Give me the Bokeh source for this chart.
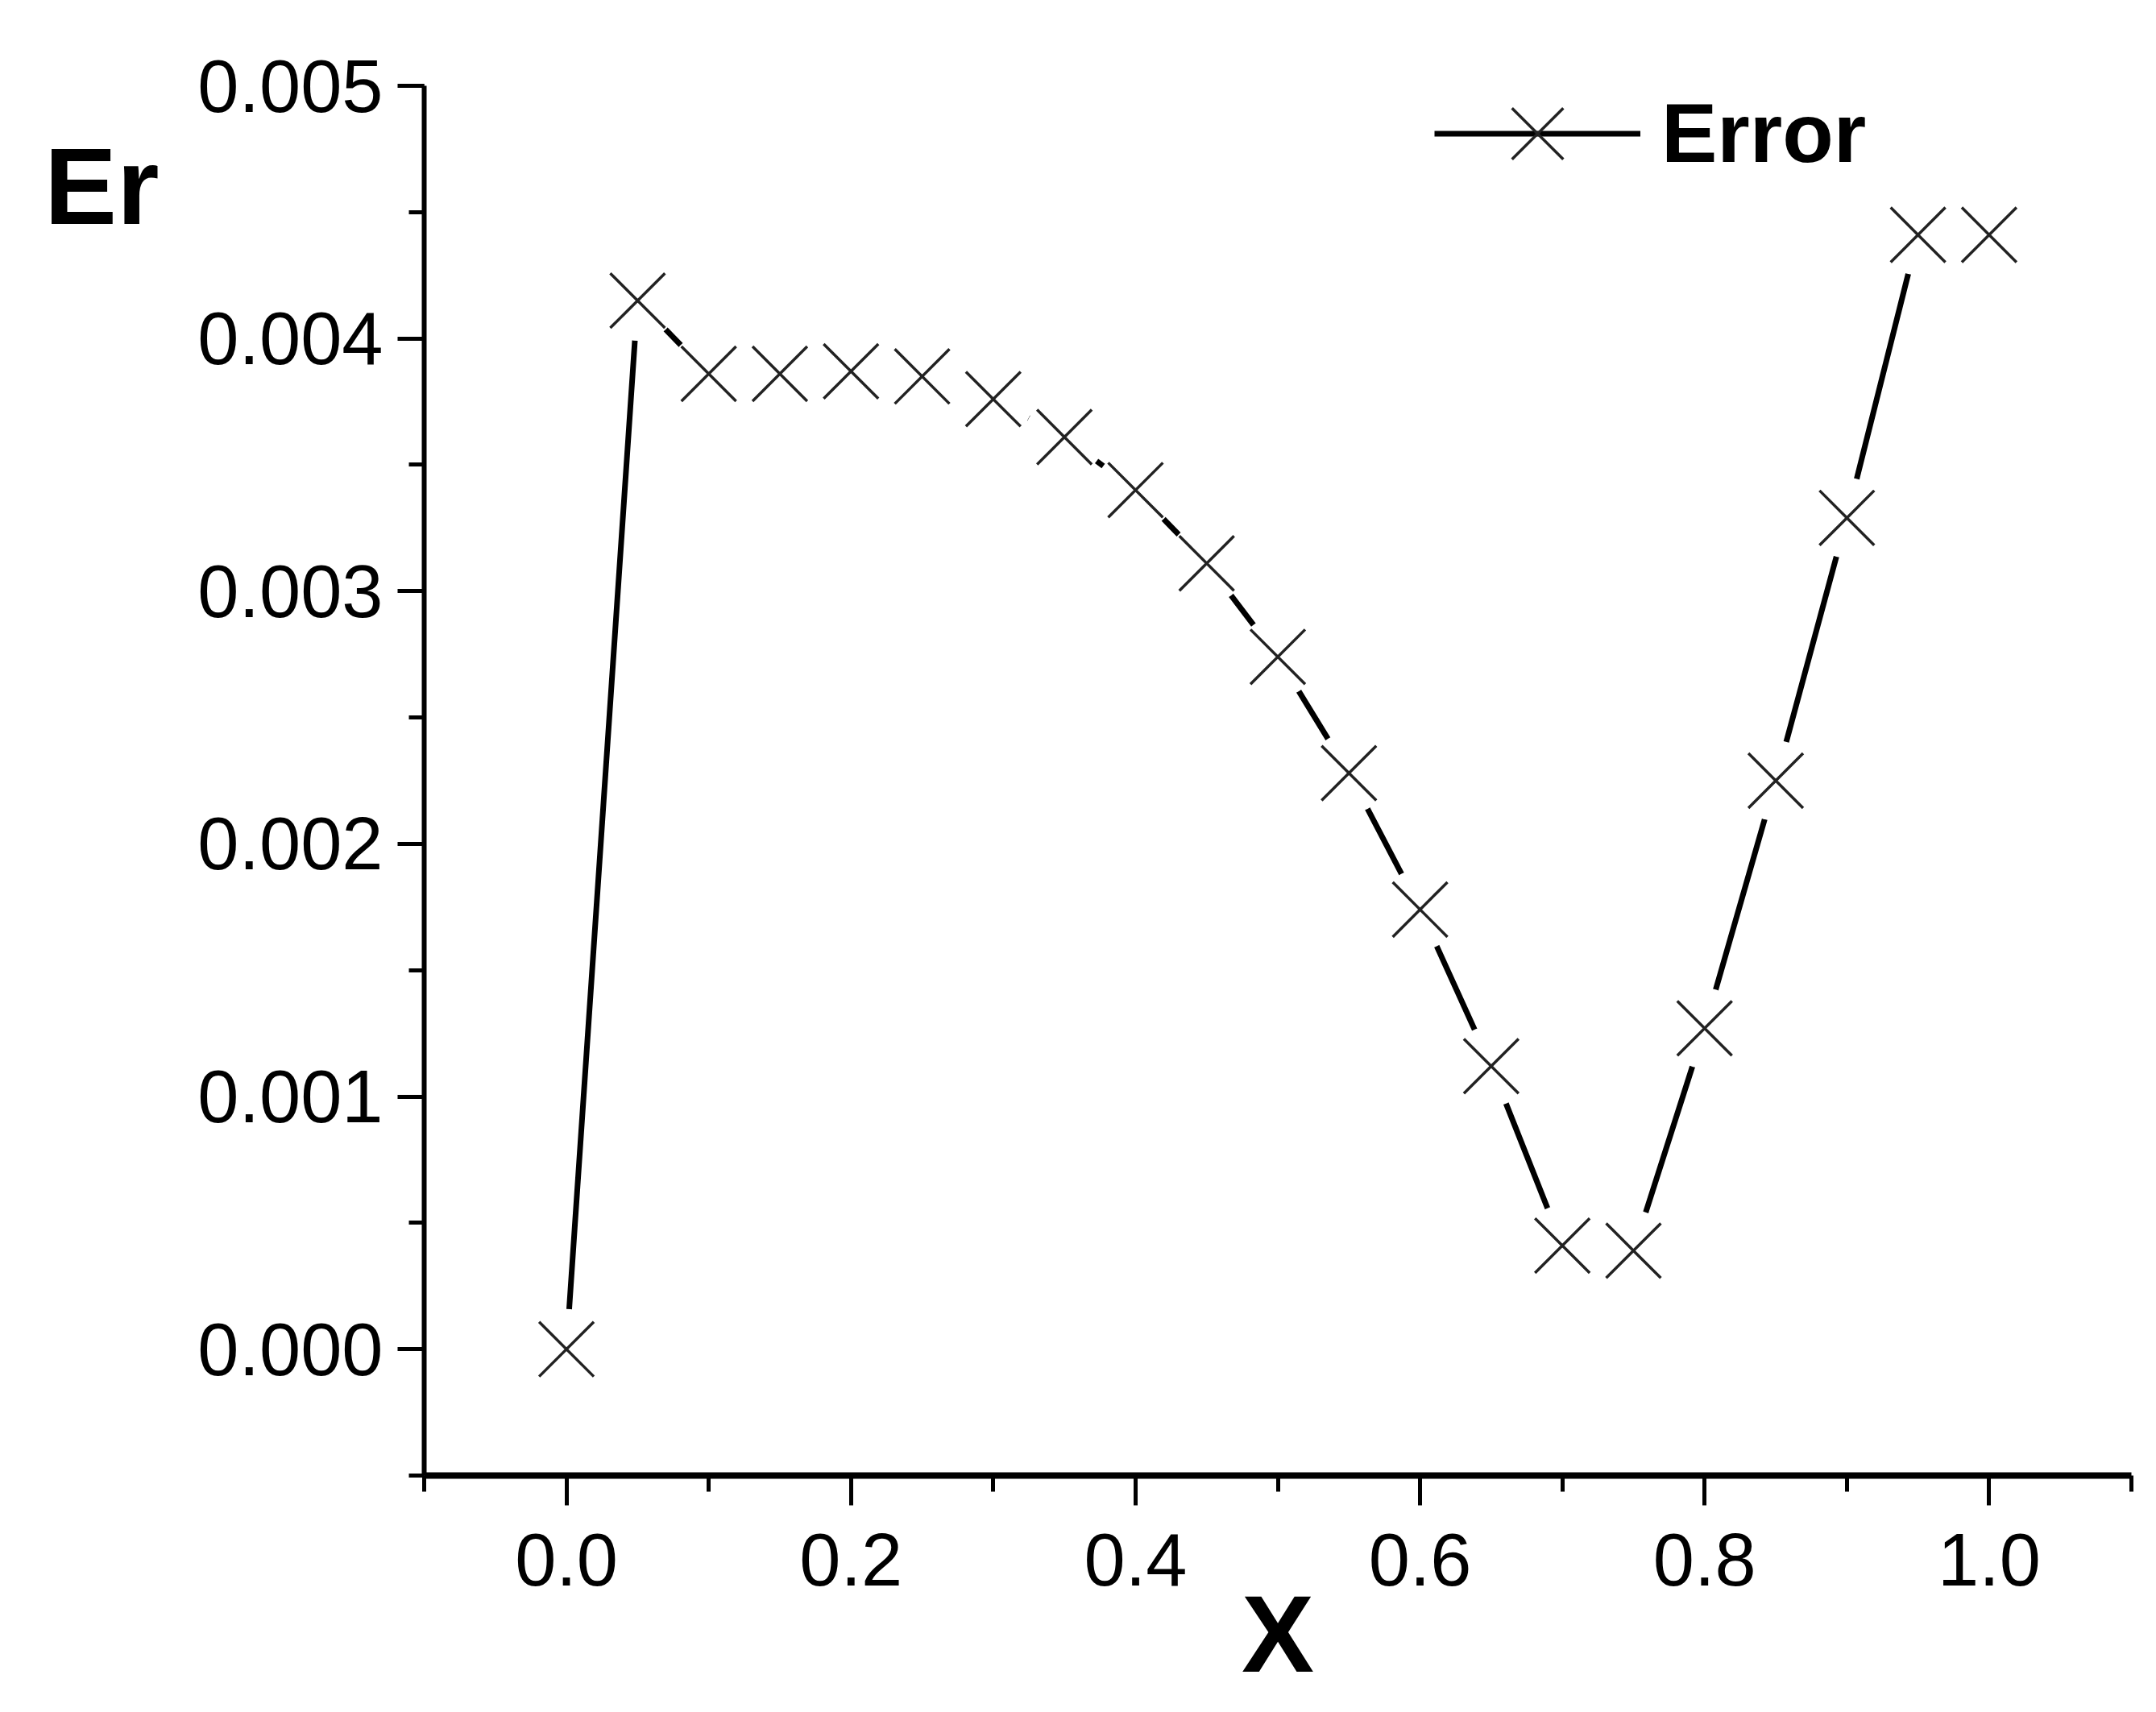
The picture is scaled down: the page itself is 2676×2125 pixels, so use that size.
from bokeh.plotting import figure
from bokeh.embed import file_html
from bokeh.resources import INLINE
from bokeh.models import (Range1d, SingleIntervalTicker, PrintfTickFormatter,
                          FixedTicker, LinearAxis, Legend, LegendItem,
                          ColumnDataSource)

# data
x_vals = [0.00, 0.05, 0.10, 0.15, 0.20, 0.25, 0.30, 0.35, 0.40, 0.45, 0.50,
          0.55, 0.60, 0.65, 0.70, 0.75, 0.80, 0.85, 0.90, 0.95, 1.00]
err = [0.00000, 0.00415, 0.00386, 0.00386, 0.00387, 0.00385, 0.00376,
       0.00361, 0.00340, 0.00311, 0.00274, 0.00228, 0.00174, 0.00112,
       0.00041, 0.00039, 0.00127, 0.00225, 0.00329, 0.00441, 0.00441]
series_name = "Error"
x_title = "X"
y_title = "Er"
y_title_at = 0.0046   # height at which the horizontal y title sits

FONT = "Liberation Sans"

src = ColumnDataSource(data=dict(x=x_vals, y=err))

p = figure(
    width=2668,
    height=2117,
    x_range=Range1d(-0.1, 1.1),
    y_range=Range1d(-0.0005, 0.005),
    output_backend="svg",
    toolbar_location=None,
    min_border_left=526,
    min_border_right=23,
    min_border_top=106,
    min_border_bottom=286,
)
p.outline_line_color = None
p.xgrid.visible = False
p.ygrid.visible = False
p.background_fill_color = "white"
p.border_fill_color = "white"

# line, then white discs to leave gaps round the symbols, then the symbols
line_r = p.line("x", "y", source=src, line_color="black", line_width=7)
p.scatter("x", "y", source=src, marker="circle", size=100,
          fill_color="white", line_color=None)
mark_r = p.scatter("x", "y", source=src, marker="x", size=96,
                   line_color="#222222", line_width=3.5)

# axes
xa = p.xaxis[0]
xa.ticker = SingleIntervalTicker(interval=0.2, num_minor_ticks=2)
xa.formatter = PrintfTickFormatter(format="%.1f")
xa.axis_line_width = 8
xa.major_tick_line_width = 5
xa.minor_tick_line_width = 5
xa.major_tick_in = 0
xa.major_tick_out = 37
xa.minor_tick_in = 0
xa.minor_tick_out = 20
xa.major_label_text_font = FONT
xa.major_label_text_font_size = "92px"
xa.major_label_text_color = "black"
xa.major_label_standoff = 35
xa.axis_label = x_title
xa.axis_label_text_font = FONT
xa.axis_label_text_font_size = "135px"
xa.axis_label_text_font_style = "bold"
xa.axis_label_text_color = "black"
xa.axis_label_standoff = -18

ya = p.yaxis[0]
ya.ticker = SingleIntervalTicker(interval=0.001, num_minor_ticks=2)
ya.formatter = PrintfTickFormatter(format="%.3f")
ya.axis_line_width = 6
ya.major_tick_line_width = 5
ya.minor_tick_line_width = 5
ya.major_tick_in = 0
ya.major_tick_out = 33
ya.minor_tick_in = 0
ya.minor_tick_out = 19
ya.major_label_text_font = FONT
ya.major_label_text_font_size = "92px"
ya.major_label_text_color = "black"
ya.major_label_standoff = 18

# horizontal "Er" at the top left: a bare outer axis with one labelled tick
title_axis = LinearAxis(ticker=FixedTicker(ticks=[y_title_at]))
title_axis.major_label_overrides = {y_title_at: y_title}
title_axis.axis_line_color = None
title_axis.major_tick_line_color = None
title_axis.minor_tick_line_color = None
title_axis.major_tick_in = 0
title_axis.major_tick_out = 0
title_axis.major_label_standoff = 45
title_axis.major_label_text_font = FONT
title_axis.major_label_text_font_size = "135px"
title_axis.major_label_text_font_style = "bold"
title_axis.major_label_text_color = "black"
p.add_layout(title_axis, "left")

# legend
legend = Legend(items=[LegendItem(label=series_name, renderers=[line_r, mark_r])],
                location=(1254, 1553))
legend.border_line_color = None
legend.background_fill_alpha = 0
legend.padding = 0
legend.margin = 0
legend.spacing = 0
legend.glyph_width = 256
legend.glyph_height = 225
legend.label_height = 225
legend.label_standoff = 26
legend.label_text_font = FONT
legend.label_text_font_size = "104px"
legend.label_text_font_style = "bold"
legend.label_text_color = "black"
p.add_layout(legend)

open("out.html", "w").write(file_html(p, INLINE))
